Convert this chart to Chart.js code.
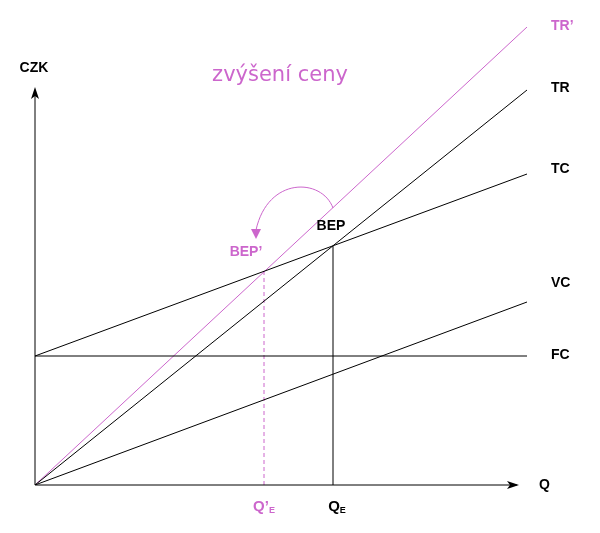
<!DOCTYPE html>
<html>
<head>
<meta charset="utf-8">
<script src="https://cdn.jsdelivr.net/npm/chart.js@4"></script>
<style>
  body { margin: 0; background: #fff; }
  canvas { display: block; }
</style>
</head>
<body>
<canvas id="myChart" width="600" height="533"></canvas>
<script>
const pink = "#cc66cc";

// quantity range (start, end) and values of each line at those two points
const qRange = [0, 492];
const fc = [129, 129];
const vc = [0, 183];
const tc = [129, 311];
const tr = [0, 395];
const trNew = [0, 458];

// break-even points
const bep = [298, 239];
const bepNew = [229, 214];

const lineLabels = ["TR’", "TR", "TC", "VC", "FC"];

function pts(vals) {
  return qRange.map((q, i) => ({ x: q, y: vals[i] }));
}

const data = {
  datasets: [
    { data: pts(fc), borderColor: "#000" },
    { data: pts(vc), borderColor: "#000" },
    { data: pts(tc), borderColor: "#000" },
    { data: pts(tr), borderColor: "#000" },
    { data: pts(trNew), borderColor: pink },
    { data: [{ x: bep[0], y: 0 }, { x: bep[0], y: bep[1] }], borderColor: "#000" },
    { data: [{ x: bepNew[0], y: 0 }, { x: bepNew[0], y: bepNew[1] }], borderColor: pink, borderDash: [4, 3] },
  ],
};

const extras = {
  id: "extras",
  afterDatasetsDraw(chart) {
    const c = chart.ctx;
    const x = chart.scales.x, y = chart.scales.y;
    const ox = x.getPixelForValue(0), oy = y.getPixelForValue(0);
    c.save();
    c.strokeStyle = "#000";
    c.fillStyle = "#000";
    c.lineWidth = 1;
    // axes with arrows
    c.beginPath();
    c.moveTo(ox, oy); c.lineTo(517, oy);
    c.moveTo(ox, oy); c.lineTo(ox, 90);
    c.stroke();
    c.beginPath();
    c.moveTo(519, oy); c.lineTo(507, oy - 4); c.lineTo(510, oy); c.lineTo(507, oy + 4); c.closePath();
    c.fill();
    c.beginPath();
    c.moveTo(ox, 87); c.lineTo(ox - 4, 99); c.lineTo(ox, 96); c.lineTo(ox + 4, 99); c.closePath();
    c.fill();

    c.textBaseline = "middle";
    c.font = "bold 14px 'Liberation Sans', Arial, sans-serif";
    c.textAlign = "center";
    c.fillText("CZK", 34, 68);
    c.textAlign = "left";
    c.fillText("Q", 539, 485);

    // line labels
    const ly = [26, 88, 169, 283, 355];
    lineLabels.forEach((t, i) => {
      c.fillStyle = i === 0 ? pink : "#000";
      c.fillText(t, 551, ly[i]);
    });

    // BEP labels
    const bx = x.getPixelForValue(bep[0]), by = y.getPixelForValue(bep[1]);
    const nx = x.getPixelForValue(bepNew[0]), ny = y.getPixelForValue(bepNew[1]);
    c.textAlign = "center";
    c.fillStyle = "#000";
    c.fillText("BEP", bx - 2, by - 20);
    c.fillStyle = pink;
    c.fillText("BEP’", nx - 18, ny - 19);

    // Q_E labels with subscript
    function qLabel(px, main, color) {
      c.fillStyle = color;
      c.font = "bold 15px 'Liberation Sans', Arial, sans-serif";
      const w1 = c.measureText(main).width;
      c.font = "bold 9px 'Liberation Sans', Arial, sans-serif";
      const w2 = c.measureText("E").width;
      const start = px - (w1 + w2) / 2;
      c.textAlign = "left";
      c.font = "bold 15px 'Liberation Sans', Arial, sans-serif";
      c.fillText(main, start, 507);
      c.font = "bold 9px 'Liberation Sans', Arial, sans-serif";
      c.fillText("E", start + w1, 511);
    }
    qLabel(nx, "Q’", pink);
    qLabel(bx + 4, "Q", "#000");

    // title
    c.textAlign = "center";
    c.fillStyle = pink;
    c.font = "21px 'DejaVu Sans', Verdana, sans-serif";
    c.fillText("zvýšení ceny", 280, 76);

    // curved arrow
    c.strokeStyle = pink;
    c.fillStyle = pink;
    c.beginPath();
    c.moveTo(333, 208);
    c.bezierCurveTo(322, 178, 268, 176, 256, 230);
    c.stroke();
    c.beginPath();
    c.moveTo(256, 239); c.lineTo(251, 229); c.lineTo(261, 229); c.closePath();
    c.fill();
    c.restore();
  },
};

const myChart = new Chart("myChart", {
  type: "scatter",
  data: data,
  options: {
    responsive: false,
    animation: false,
    showLine: true,
    layout: { padding: { left: 35, right: 73, top: 27, bottom: 48 } },
    elements: { point: { radius: 0 }, line: { borderWidth: 1 } },
    scales: {
      x: { type: "linear", min: 0, max: 492, display: false },
      y: { type: "linear", min: 0, max: 458, display: false },
    },
    plugins: { legend: { display: false }, tooltip: { enabled: false } },
  },
  plugins: [extras],
});
</script>
</body>
</html>
